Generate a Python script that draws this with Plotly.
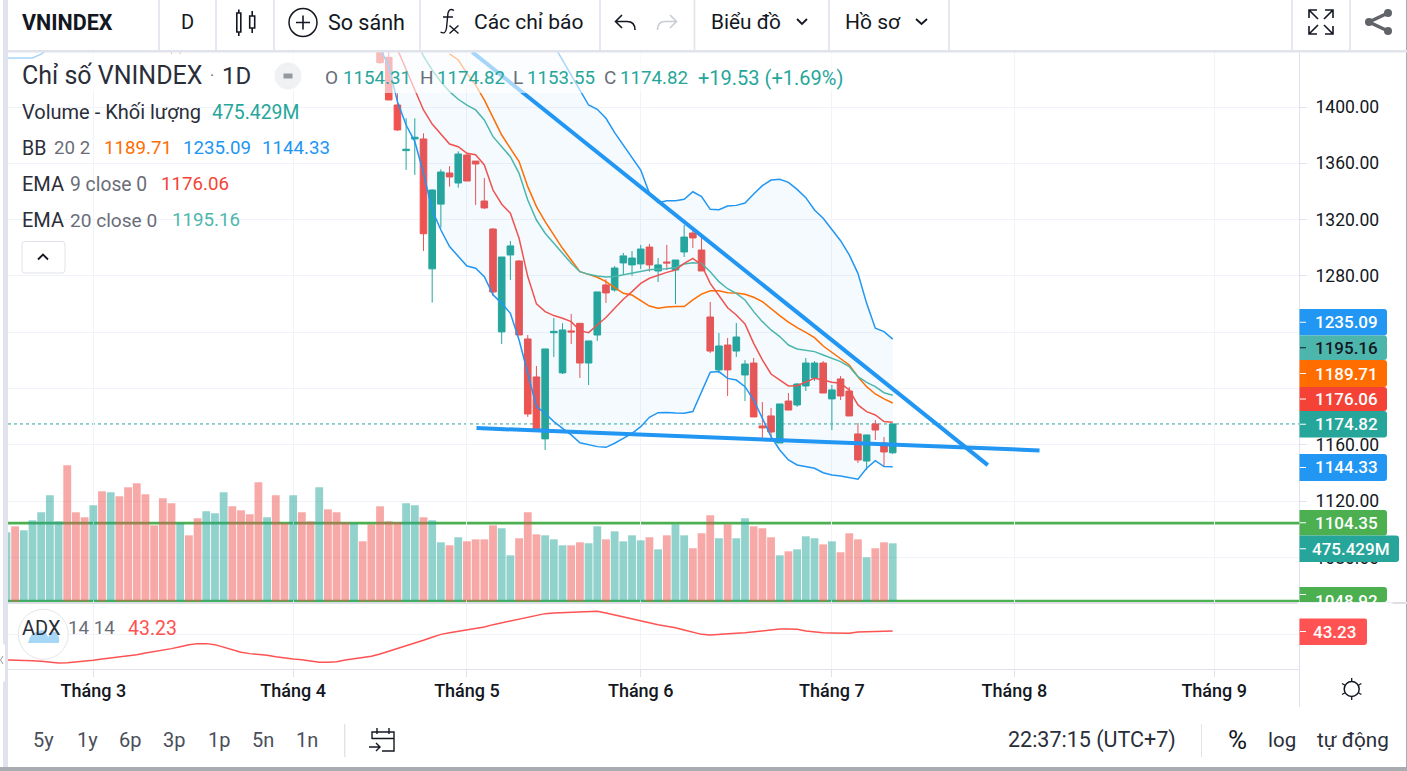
import plotly.graph_objects as go

W, H = 1407, 771

# ---------- data ----------
candle_index = [19, 20] + list(range(43, 103))
opens = [1450, 1450, 1445, 1435.3, 1401.4, 1369, 1377.3, 1377.3, 1285, 1331, 1353.1, 1346, 1365.9, 1361.6, 1333.2, 1313.3,
         1240.2, 1294.9, 1290.6, 1235.2, 1208.2, 1164.2, 1239.6, 1211.1, 1240.9, 1246.3, 1218.1, 1238, 1273.6, 1270,
         1289.2, 1287.8, 1288.5, 1300.5, 1283.5, 1289.9, 1284.2, 1297, 1310.5, 1298.4, 1250.8, 1213.2, 1230.9, 1226.6,
         1209.6, 1218.1, 1173.4, 1180.5, 1161.3, 1191.1, 1188.3, 1201.8, 1207.5, 1218.1, 1192.6, 1206.8, 1198.2, 1167.7,
         1148.5, 1174.8, 1161.3, 1154.31]
highs = [1460, 1460, 1450, 1441, 1409.7, 1392, 1392, 1381.3, 1341.5, 1355.7, 1358, 1368.5, 1366.6, 1361.6, 1349.6, 1314,
         1293.4, 1304.8, 1291.3, 1238, 1216, 1228.1, 1250.1, 1246.3, 1253, 1246.3, 1233.8, 1268.6, 1277.6, 1287,
         1296.3, 1297.7, 1302, 1302.7, 1292.7, 1302, 1291.3, 1316.2, 1312.6, 1309.8, 1261.5, 1239.4, 1235.9, 1246.5,
         1220.2, 1221.7, 1190.4, 1186.2, 1189, 1196.8, 1203.9, 1221.7, 1219.5, 1219.5, 1202.5, 1208.9, 1201.1, 1175.5,
         1167, 1177.6, 1165.6, 1174.82]
lows = [1437.5, 1437.5, 1430.5, 1405, 1383, 1355.3, 1351.7, 1297.7, 1261, 1314.3, 1343.4, 1342.7, 1347.4, 1330.4, 1327.5, 1265.7,
        1231.6, 1277.1, 1238, 1179.8, 1169.8, 1156.3, 1222.4, 1210.3, 1231.6, 1207.5, 1202.5, 1233.8, 1260.8, 1268.8,
        1280.7, 1280, 1284.9, 1283, 1275.7, 1284.2, 1260, 1293.4, 1299.8, 1283.5, 1225.2, 1210.8, 1194.7, 1222.4,
        1191.1, 1179.8, 1162.7, 1162.7, 1161.3, 1184.7, 1186.9, 1198.2, 1205.3, 1196.8, 1170.5, 1191.8, 1180.5, 1147.1,
        1142.1, 1163.4, 1144.3, 1153.55]
closes = [1445, 1445, 1431.5, 1405, 1383.7, 1370, 1378.5, 1310, 1341, 1353.8, 1350.3, 1366.6, 1347.4, 1359.5, 1328.3, 1268.6,
          1293.4, 1301.3, 1238, 1181.9, 1171, 1228.1, 1240.6, 1241.6, 1240.2, 1218.1, 1233.8, 1268.6, 1267.9, 1285.6,
          1294.2, 1292.7, 1299.1, 1287.8, 1287.8, 1289.2, 1291.3, 1307.6, 1307, 1283.5, 1226.6, 1230.2, 1213.2, 1236.6,
          1217.4, 1179.8, 1172, 1169.1, 1189, 1184.7, 1203.2, 1218.1, 1218.1, 1196.8, 1199, 1194.7, 1180.5, 1149.2,
          1167, 1170.5, 1154.9, 1174.82]

volume = [566, 615, 582, 664, 730, 869, 656, 1115, 730, 689, 787, 902, 894, 861, 935, 967, 877, 623, 845, 804,
          640, 541, 681, 738, 722, 894, 779, 746, 713, 976, 689, 869, 640, 869, 730, 656, 935, 754, 730, 648,
          640, 492, 631, 779, 656, 648, 804, 787, 689, 664, 484, 459, 525, 492, 508, 508, 623, 599, 377, 517,
          730, 549, 541, 508, 459, 459, 484, 476, 615, 508, 574, 492, 541, 500, 525, 426, 541, 631, 541, 435,
          558, 705, 517, 631, 517, 681, 615, 599, 525, 377, 410, 426, 533, 517, 467, 492, 402, 558, 508, 361,
          435, 484, 475.429]
volume_dir = list("GRGGGGGRRRGRGRRRRRRRGRRGGGRRRRGRRGRRGRRRGRRRRRGGRGGRG"
                  "RRRRGGRRRGGGRRGGRGGGGRGRGGRRRGRGGRRRGRGGGRGRRRGRRG")

adx = [11.9, 11.9, 11.6, 11.2, 10.5, 9.8, 8.7, 9.0, 9.8, 10.5, 11.6, 13, 14.1, 14.8, 15.9, 17.7, 19.5, 20.9, 22.4, 24.2,
       26.3, 28.5, 29.6, 29.6, 28.5, 25.6, 22.4, 20.2, 18.8, 18, 17, 15.5, 14.1, 13, 12.3, 10.8, 9.4, 9.4, 10.1, 11.9,
       13, 14.1, 15.9, 18.4, 21.3, 23.8, 27, 29.9, 33.2, 36.4, 39.6, 41.4, 42.9, 43.9, 45.7, 47.5, 50.1, 52.2, 53.7, 55.8,
       58.3, 60.5, 62, 62.7, 63.2, 63.7, 64.3, 64.8, 64.5, 62.7, 60.5, 58.3, 56.2, 54, 51.9, 50.1, 48.3, 46.8, 44.3, 41.8,
       39.6, 38.9, 39.3, 40, 40.7, 41.4, 42.5, 43.6, 44.7, 45.4, 45.4, 45, 43.2, 42.1, 41.4, 41.1, 40.7, 40.7, 42.1, 42.5,
       42.9, 43.2, 43.23]

ema9_start = 45
ema9 = [1441, 1426.3, 1412.1, 1397.9, 1387.9, 1380.4, 1373.7, 1371.8, 1367.1, 1366.1, 1358.8, 1341, 1330.9, 1324.5, 1306.7,
        1279.5, 1260.1, 1254.6, 1251.8, 1249.9, 1247.5, 1241.1, 1239.7, 1245.1, 1250.4, 1257, 1263.4, 1268.8, 1274.7, 1278.3,
        1280.6, 1282.5, 1284.2, 1288.9, 1292.5, 1287.8, 1274.7, 1266.4, 1257.4, 1252.2, 1245.8, 1232.1, 1220.3, 1210.3, 1206.1,
        1201.8, 1202, 1204.4, 1207.2, 1206.1, 1204.4, 1203.7, 1199, 1188.3, 1183.6, 1181.2, 1176.5, 1176.06]

ema20_start = 47
ema20 = [1449, 1436.2, 1426.3, 1418, 1410.9, 1405.5, 1401.4, 1397.9, 1390.8, 1378.9, 1371.8, 1364.7, 1352.9, 1333.9, 1319.7,
         1310.3, 1303.2, 1296.1, 1289, 1283, 1281.1, 1279.9, 1279.2, 1279.5, 1280.7, 1281.8, 1283.5, 1284.4, 1284.9, 1285.1,
         1286, 1288.5, 1289.4, 1288.9, 1283, 1275.9, 1270.9, 1267.6, 1262.9, 1254.6, 1247.5, 1241.6, 1236.9, 1230.9, 1228.1,
         1226.9, 1226.2, 1223.8, 1221.4, 1219.1, 1215.5, 1208.4, 1204.4, 1201.3, 1197, 1195.16]

bb_basis_start = 51
bb_basis = [1437.7, 1433.4, 1423.9, 1415.6, 1405, 1392, 1380.1, 1370.6, 1361.2, 1343.4, 1329.2, 1318.5, 1309.1, 1299.6, 1291.3,
            1283, 1281.1, 1279, 1275.9, 1271.9, 1267.6, 1266.4, 1262.4, 1258.6, 1257, 1257.9, 1258.2, 1258.2, 1262.9, 1267.1,
            1269.5, 1269.5, 1268.1, 1267.9, 1266.9, 1264.8, 1261.7, 1256.5, 1251.8, 1247.2, 1243.2, 1239.9, 1236.1, 1230.2, 1225.7,
            1221.4, 1216.7, 1208.4, 1201.3, 1196.1, 1192.6, 1189.71]

bb_start = 40
bb_upper = [1640, 1630, 1620, 1610, 1600, 1590, 1580, 1570, 1560, 1552, 1545, 1538, 1530, 1523, 1515, 1508, 1500, 1493, 1485, 1478,
            1470, 1463, 1456, 1444, 1433.4, 1423.5, 1412.6, 1401.4, 1398.4, 1392, 1381.8, 1373, 1363.5, 1355.2, 1338.7,
            1332, 1333.4, 1333.4, 1334.4, 1339.8, 1336.3, 1327.3, 1327, 1329.7, 1330.1, 1331.8, 1338.2, 1344.1, 1348.1, 1348.6,
            1346.5, 1341.5, 1335.6, 1326.8, 1320.9, 1313.1, 1305, 1294.9, 1281.8, 1260.5, 1242.8, 1240.4, 1235.09]
bb_lower = [1490, 1475, 1460, 1442, 1428.7, 1403.8, 1387.2, 1375.4, 1352.9, 1326.8, 1312.6, 1300.8, 1293.7, 1287, 1285.4, 1279.5,
            1266.5, 1260.5, 1253.4, 1234.5, 1210.8, 1187.1, 1182.4, 1176.5, 1171.7, 1167, 1161.5, 1159.9, 1158.7, 1158.2, 1161.1,
            1164.6, 1168.2, 1172.9, 1179.5, 1182.8, 1183, 1182.6, 1182.4, 1183.6, 1197.8, 1211.5, 1212, 1207.2, 1206, 1201.3,
            1191.8, 1178.8, 1165.8, 1156.3, 1149.2, 1145.7, 1144.5, 1143.3, 1140.2, 1138.6, 1137.9, 1136.7, 1135.5, 1143.3, 1148.7,
            1144.5, 1144.33]
bb_lower_early_x = [0, 1, 2, 3, 4, 5]
bb_lower_early = [1434.8, 1434.8, 1434.8, 1434.8, 1437.5, 1442]

trend_down_x, trend_down_y = [53.6, 112.95], [1439.1, 1145.6]
trend_flat_x, trend_flat_y = [54.1, 118.9], [1171.9, 1156]

hlines = [1104.35, 1048.92]
last_close = 1174.82

month_pos = [10, 33, 53, 73, 95, 116, 139]
month_labels = ["Tháng 3", "Tháng 4", "Tháng 5", "Tháng 6", "Tháng 7", "Tháng 8", "Tháng 9"]
price_ticks = [1400, 1360, 1320, 1280, 1240, 1200, 1160, 1120, 1080]
price_tick_text = ["1400.00", "1360.00", "1320.00", "1280.00", "", "", "1160.00", "1120.00", "1080.00"]

scale_texts = ["1235.09", "1195.16", "1189.71", "1176.06", "1174.82", "1144.33", "1104.35", "475.429M", "1048.92", "43.23"]
scale_colors = ["#2196f3", "#4db6ac", "#ff6d00", "#f44336", "#26a69a", "#2196f3", "#4caf50", "#26a69a", "#4caf50", "#ff5252"]

# ---------- layout helpers (pixel -> paper) ----------
FONT = "Roboto"
INK = "#131722"
GRAY = "#6a6d78"
TEAL = "#26a69a"
SEP = "#e0e3eb"
shapes, annos = [], []


def X(v):
    return v / W


def Y(v):
    return 1 - v / H


def P(d):
    out, isx = [], True
    for t in d.split():
        if t.isalpha():
            out.append(t)
        else:
            out.append(f"{X(float(t)):.6f}" if isx else f"{Y(float(t)):.6f}")
            isx = not isx
    return " ".join(out)


def stroke(d, color=INK, width=1.6, layer="above"):
    shapes.append(dict(type="path", xref="paper", yref="paper", path=P(d), line=dict(color=color, width=width), layer=layer))


def fill(d, color, layer="above", opacity=1):
    shapes.append(dict(type="path", xref="paper", yref="paper", path=P(d), fillcolor=color, opacity=opacity,
                       line=dict(width=0), layer=layer))


def rect(x0, y0, x1, y1, color, opacity=1, layer="above"):
    shapes.append(dict(type="rect", xref="paper", yref="paper", x0=X(x0), x1=X(x1), y0=Y(y0), y1=Y(y1),
                       fillcolor=color, opacity=opacity, line=dict(width=0), layer=layer))


def circle(cx, cy, rx, ry=None, fc="rgba(0,0,0,0)", lc=INK, lw=1.5):
    ry = ry or rx
    shapes.append(dict(type="circle", xref="paper", yref="paper", x0=X(cx - rx), x1=X(cx + rx), y0=Y(cy + ry), y1=Y(cy - ry),
                       fillcolor=fc, line=dict(color=lc, width=lw), layer="above"))


def T(x, y, text, color=INK, size=18.5, anchor="left", weight=None, family=FONT):
    f = dict(family=family, size=size, color=color)
    if weight:
        f["weight"] = weight
    annos.append(dict(xref="paper", yref="paper", x=X(x), y=Y(y), text=text, showarrow=False, xanchor=anchor,
                      yanchor="middle", font=f, borderpad=0, borderwidth=0))


def pill(x1, y0, y1, color):
    x0, r = 1299.5, 3
    fill(f"M {x0} {y0} L {x1-r} {y0} Q {x1} {y0} {x1} {y0+r} L {x1} {y1-r} Q {x1} {y1} {x1-r} {y1} L {x0} {y1} Z", color)


# ---------- traces ----------
fig = go.Figure()
vol_x = list(range(len(volume)))
fig.add_trace(go.Bar(x=vol_x, y=volume, yaxis="y", xaxis="x", width=0.9,
                     marker=dict(color=["rgba(38,166,154,0.5)" if d == "G" else "rgba(239,83,80,0.5)" for d in volume_dir],
                                 line=dict(width=0))))
fig.add_trace(go.Candlestick(x=candle_index, open=opens, high=highs, low=lows, close=closes, yaxis="y2", xaxis="x",
                             whiskerwidth=0,
                             increasing=dict(line=dict(color=TEAL, width=1), fillcolor=TEAL),
                             decreasing=dict(line=dict(color="#ef5350", width=1), fillcolor="#ef5350")))


def line(xs, ys, color, width=1.5, axis="y2", **kw):
    fig.add_trace(go.Scatter(x=xs, y=ys, mode="lines", yaxis=axis, xaxis="x", line=dict(color=color, width=width), **kw))


bb_x = list(range(bb_start, bb_start + len(bb_upper)))
line(bb_x, bb_upper, "#2196f3")
line(bb_x, bb_lower, "#2196f3", fill="tonexty", fillcolor="rgba(33,150,243,0.05)")
line(bb_lower_early_x, bb_lower_early, "#2196f3")
line(list(range(bb_basis_start, bb_basis_start + len(bb_basis))), bb_basis, "#ff6d00")
line(list(range(ema20_start, ema20_start + len(ema20))), ema20, "#4db6ac")
line(list(range(ema9_start, ema9_start + len(ema9))), ema9, "#ef5350")
line(trend_down_x, trend_down_y, "#2196f3", width=4)
line(trend_flat_x, trend_flat_y, "#2196f3", width=4)
line(list(range(len(adx))), adx, "#ff5252", axis="y3")

# ---------- horizontal levels below the marks ----------
for lv in hlines:
    shapes.append(dict(type="line", xref="paper", yref="y2", x0=X(8), x1=X(1299), y0=lv, y1=lv,
                       line=dict(color="#4caf50", width=2.6), layer="below"))
shapes.append(dict(type="line", xref="paper", yref="y2", x0=X(8), x1=X(1299), y0=last_close, y1=last_close,
                   line=dict(color=TEAL, width=1, dash="dot"), layer="below"))

# ---------- legend fade ----------
rect(8, 52, 858, 93, "#ffffff", opacity=0.6)

# ---------- frame ----------
rect(0, 0, 1407, 51, "#ffffff")
rect(3, 0, 8, 767, SEP)
rect(1406, 0, 1407, 771, "#a7adb0")
rect(0, 767, 1407, 771, "#a7adb0")
rect(8, 50, 1407, 52.5, SEP)
rect(1299, 52, 1300, 707, SEP)
rect(8, 602, 1407, 604, "#dddfe4")
for sx in [159, 216, 274, 420, 600, 694.5, 829, 949, 1292, 1350]:
    rect(sx - 0.8, 0, sx + 0.8, 50, SEP)
rect(344, 724, 345.4, 757, SEP)
rect(1201, 724, 1202, 757, SEP)

# left tab
fill("M 0 644 L 3 644 Q 5 644 5 646 L 5 680 Q 5 682 3 682 L 0 682 Z", "#ffffff")
stroke("M 3 656 L 0.5 660 L 3 664", "#9598a1", 1)

# ---------- price-scale pills ----------
pill_rows = [(1387, 309, 335.5), (1387, 335.5, 360), (1387, 360, 387), (1387, 387, 411), (1387, 411, 437.5),
             (1387, 454, 481), (1387, 510, 535.5), (1399, 535.5, 562), (1387, 587, 602), (1367, 618, 645)]
for (x1, y0, y1), c in zip(pill_rows, scale_colors):
    pill(x1, y0, y1, c)
    stroke(f"M 1300 {(y0+y1)/2} L 1306 {(y0+y1)/2}", "#ffffff" if c != "#4db6ac" else INK, 1)
for (x1, y0, y1), s, c in zip(pill_rows, scale_texts, scale_colors):
    cy = (y0 + y1) / 2
    if s == "1048.92":
        cy = 601
    if s == "43.23":
        T(1334, cy, s, "#ffffff", 17, "center", 500)
    elif s == "475.429M":
        T(1351, cy, s, "#ffffff", 17, "center", 500)
    else:
        T(1346, cy, s, INK if c == "#4db6ac" else "#ffffff", 17, "center", 500)
annos.append(dict(xref="paper", yref="paper", x=X(1345), y=Y(610.5), text=" ", showarrow=False, xanchor="center",
                  yanchor="middle", width=92, height=13, bgcolor="#ffffff", font=dict(size=9)))

# ---------- toolbar ----------
T(22, 22, "VNINDEX", INK, 21.5, weight=700)
T(187, 22, "D", INK, 20, "center")
stroke("M 236.8 13 L 240.8 13 L 240.8 32 L 236.8 32 Z M 238.8 9.5 L 238.8 13 M 238.8 32 L 238.8 36")
stroke("M 249.7 16 L 254.7 16 L 254.7 28 L 249.7 28 Z M 252.2 11 L 252.2 16 M 252.2 28 L 252.2 33")
circle(303, 22.5, 14)
stroke("M 296 22.5 L 310 22.5 M 303 15.5 L 303 29.5")
T(328, 22, "So sánh", INK, 21.5)
stroke("M 454 10.5 Q 449.5 7.5 448 13 L 446.5 28 Q 445.5 35 440.5 32 M 443 17 L 453 17 M 449.5 25.5 L 458.5 33.5 M 458.5 25.5 L 449.5 33.5", INK, 1.4)
T(474, 22, "Các chỉ báo", INK, 21)
stroke("M 622 15 L 615.5 21.5 L 622 28 M 615.5 21.5 L 627 21.5 Q 635 21.5 635 30")
stroke("M 670 15 L 676.5 21.5 L 670 28 M 676.5 21.5 L 665 21.5 Q 657.5 21.5 657.5 30", "#c8ccd4")
T(711, 22, "Biểu đồ", INK, 20.8)
stroke("M 797 19 L 802 24 L 807 19", INK, 1.8)
T(845, 22, "Hồ sơ", INK, 21)
stroke("M 916 19 L 921.5 24 L 927 19", INK, 1.8)
stroke("M 1309 18 L 1309 10 L 1317 10 M 1309 10 L 1318 19 M 1325 10 L 1333 10 L 1333 18 M 1333 10 L 1324 19 "
       "M 1309 26 L 1309 34 L 1317 34 M 1309 34 L 1318 25 M 1325 34 L 1333 34 L 1333 26 M 1333 34 L 1324 25", INK, 1.6)
stroke("M 1388 13 L 1369 22 L 1388 31", "#606368", 3.5)
for cx, cy in [(1388, 13), (1369, 22), (1388, 31)]:
    circle(cx, cy, 4, fc="#606368", lc="#606368", lw=0)

# ---------- chart legend ----------
T(22, 76, "Chỉ số VNINDEX", "#2a2e39", 25)
T(212, 76, "·", GRAY, 16, "center")
T(222, 76, "1D", "#2a2e39", 24)
circle(288, 76, 13.5, fc="#f0f1f3", lc="#f0f1f3", lw=0)
stroke("M 283.5 76 L 292.5 76", "#9598a1", 5)
for x, s, c, z in [(325, "O", GRAY, 19), (343, "1154.31", TEAL, 18.7), (420, "H", GRAY, 19), (437, "1174.82", TEAL, 18.7),
                   (513, "L", GRAY, 19), (527, "1153.55", TEAL, 18.7), (604, "C", GRAY, 19), (620, "1174.82", TEAL, 18.7),
                   (698, "+19.53 (+1.69%)", TEAL, 20)]:
    T(x, 78, s, c, z)
T(22, 112, "Volume - Khối lượng", "#2a2e39", 20)
T(212, 112, "475.429M", TEAL, 19.4)
T(22, 148, "BB", "#2a2e39", 19.5)
T(54, 148, "20 2", GRAY, 18.7)
T(104, 148, "1189.71", "#ff6d00", 18.7)
T(183, 148, "1235.09", "#2196f3", 18.7)
T(262, 148, "1144.33", "#2196f3", 18.7)
T(22, 184, "EMA", "#2a2e39", 20)
T(70, 184, "9 close 0", GRAY, 19.3)
T(161, 184, "1176.06", "#f44336", 18.7)
T(22, 220, "EMA", "#2a2e39", 20)
T(70, 220, "20 close 0", GRAY, 19.1)
T(172, 220, "1195.16", "#4db6ac", 18.7)
stroke("M 25 241.5 L 62 241.5 Q 65 241.5 65 244.5 L 65 270 Q 65 273 62 273 L 25 273 Q 22 273 22 270 L 22 244.5 Q 22 241.5 25 241.5 Z",
       SEP, 1)
stroke("M 38 259.5 L 43 254.5 L 48 259.5", INK, 1.8)

# ---------- ADX pane furniture ----------
circle(43.3, 634.3, 25, fc="rgba(255,255,255,0.85)", lc="#e6e6e6", lw=1)
fill("M 28 643 Q 31 631 38 632 Q 44 626 48 637 Q 52 631 56 632 Q 60 636 59 643 Z", "#a6d7f7")
T(22, 628, "ADX", "#2a2e39", 20)
T(68, 628, "14 14", GRAY, 18.7)
T(128, 628, "43.23", "#ff5252", 19.5)

# ---------- bottom bar ----------
for x, s in zip([43, 87, 130, 174, 219, 263, 307], ["5y", "1y", "6p", "3p", "1p", "5n", "1n"]):
    T(x, 740, s, "#4a4e59", 20, "center")
stroke("M 372 739 L 372 732 L 394 732 L 394 751 L 382 751 M 372 738.5 L 394 738.5 M 377 728 L 377 734 M 389 728 L 389 734 "
       "M 369 747 L 380 747 M 376 743 L 380 747 L 376 751", INK, 1.4)
T(1008, 740, "22:37:15 (UTC+7)", "#2a2e39", 21.5)
T(1237, 740, "%", INK, 26, "center")
T(1282, 740, "log", "#2a2e39", 20.5, "center")
T(1353, 740, "tự động", "#2a2e39", 20.7, "center")
circle(1351.7, 689, 7.5)
stroke("M 1351.7 678 L 1351.7 681.5 M 1351.7 696.5 L 1351.7 700 M 1342 683.5 L 1345 685.2 M 1358.4 692.8 L 1361.4 694.5 "
       "M 1342 694.5 L 1345 692.8 M 1358.4 685.2 L 1361.4 683.5", INK, 1.3)

# ---------- layout ----------
spacing = 8.689
x_lo = 102 - (892.7 - 8) / spacing
x_hi = 102 + (1299 - 892.7) / spacing
pane_bottom = 603
pane_dom = [Y(pane_bottom), Y(52)]
price_per_px = 1 / 1.4075
vol_per_px = 8.2

fig.update_layout(
    width=W, height=H, autosize=False,
    margin=dict(l=0, r=0, t=0, b=0, pad=0),
    paper_bgcolor="#ffffff", plot_bgcolor="#ffffff",
    showlegend=False, hovermode=False, dragmode=False, boxgap=0.24, boxgroupgap=0,
    font=dict(family=FONT, color=INK),
    shapes=shapes, annotations=annos,
    xaxis=dict(domain=[X(8), X(1299)], range=[x_lo, x_hi], anchor="y3", type="linear",
               tickmode="array", tickvals=month_pos, ticktext=month_labels,
               tickfont=dict(family=FONT, size=18, color=INK, weight=500),
               ticks="outside", ticklen=7, tickcolor=SEP, tickwidth=1, ticklabelstandoff=-2,
               showgrid=True, gridcolor="#f0f3fa", gridwidth=1,
               showline=True, linecolor=SEP, linewidth=1, zeroline=False,
               rangeslider=dict(visible=False)),
    yaxis=dict(domain=pane_dom, range=[-(pane_bottom - 601.3) * vol_per_px, 549.3 * vol_per_px], anchor="x",
               visible=False, showgrid=False, zeroline=False),
    yaxis2=dict(domain=pane_dom, overlaying="y", side="right", anchor="x",
                range=[1400 - (pane_bottom - 107) * price_per_px, 1400 + (107 - 52) * price_per_px],
                tickmode="array", tickvals=price_ticks, ticktext=price_tick_text,
                tickfont=dict(family=FONT, size=17.5, color=INK),
                ticks="outside", ticklen=7, tickcolor=SEP, ticklabelstandoff=5,
                showgrid=True, gridcolor="#f0f3fa", gridwidth=1, zeroline=False, showline=False),
    yaxis3=dict(domain=[Y(669), Y(604)], anchor="x", side="right",
                range=[40 - 35 * 1.08, 40 + 30 * 1.08],
                tickmode="array", tickvals=[40], showticklabels=False, ticks="outside", ticklen=7, tickcolor=SEP,
                showgrid=True, gridcolor="#f0f3fa", zeroline=False, showline=False),
)

fig.write_html("out.html", config=dict(displayModeBar=False, staticPlot=True),
               post_script="document.body.style.margin='0';document.body.style.overflow='hidden';")
